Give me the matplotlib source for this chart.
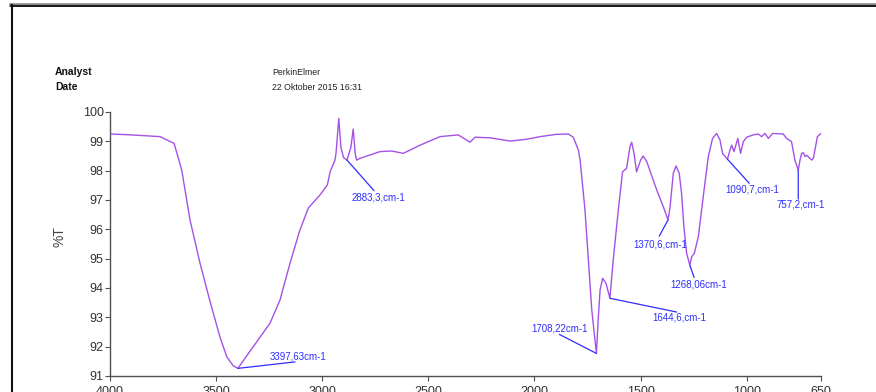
import matplotlib
matplotlib.use("Agg")
import matplotlib.pyplot as plt
from matplotlib.lines import Line2D
import numpy as np

plt.rcParams['font.family'] = ['Liberation Sans', 'DejaVu Sans']

# ---- spectrum data (wavenumber cm-1, %T) ----
wavenumber = [3995, 3900, 3764, 3733, 3698, 3662, 3623, 3576, 3529, 3482, 3450, 3420,
              3397.63, 3325, 3246, 3199, 3152, 3105, 3066, 3011, 2976, 2963, 2940, 2935,
              2922, 2912, 2900, 2883.3, 2865, 2854, 2845, 2838, 2822, 2728, 2673, 2618,
              2539, 2445, 2359, 2304, 2280, 2210, 2115, 2037, 1974, 1895, 1841, 1817,
              1793, 1785, 1762, 1746, 1730, 1708.22, 1700, 1691, 1679, 1663, 1644.6, 1629,
              1605, 1585, 1566, 1550, 1542, 1531, 1519, 1500, 1488, 1471, 1424, 1393,
              1370.6, 1361, 1346, 1333, 1318, 1307, 1296, 1283, 1268.06, 1259, 1247, 1228,
              1205, 1181, 1161, 1142, 1126, 1114, 1090.7, 1079, 1071, 1060, 1042, 1029,
              1016, 1000, 969, 945, 930, 914, 898, 878, 828, 812, 789, 773,
              757.2, 748, 741, 733, 725, 718, 694, 686, 667, 650]
transmittance = [99.25, 99.22, 99.16, 99.05, 98.93, 98.02, 96.32, 94.85, 93.55, 92.33, 91.66, 91.35,
                 91.26, 92.0, 92.8, 93.59, 94.84, 95.98, 96.72, 97.17, 97.51, 97.96, 98.36, 98.6,
                 99.78, 98.8, 98.45, 98.36, 98.8, 99.42, 98.6, 98.36, 98.42, 98.65, 98.67, 98.59,
                 98.87, 99.16, 99.22, 98.97, 99.14, 99.12, 99.01, 99.07, 99.16, 99.24, 99.25, 99.14,
                 98.7, 98.36, 96.66, 94.95, 93.25, 91.77, 92.9, 93.93, 94.33, 94.16, 93.65, 94.95,
                 96.66, 97.96, 98.08, 98.82, 98.97, 98.59, 97.96, 98.36, 98.50, 98.31, 97.34, 96.77,
                 96.32, 96.77, 97.91, 98.16, 97.91, 97.23, 96.09, 95.18, 94.78, 95.07, 95.18, 95.75,
                 97.11, 98.48, 99.10, 99.27, 99.05, 98.59, 98.39, 98.70, 98.87, 98.65, 99.10, 98.59,
                 98.99, 99.14, 99.22, 99.25, 99.16, 99.27, 99.10, 99.27, 99.25, 99.10, 98.99, 98.36,
                 98.02, 98.4, 98.59, 98.61, 98.48, 98.53, 98.36, 98.42, 99.16, 99.27]

# ---- peak annotations ----
peak_wn = [3397.63, 2883.3, 1708.22, 1644.6, 1370.6, 1268.06, 1090.7, 757.2]
peak_labels = ["3397,63cm-1", "2883,3,cm-1", "1708,22cm-1", "1644,6,cm-1",
               "1370,6,cm-1", "1268,06cm-1", "1090,7,cm-1", "757,2,cm-1"]
leader_end = [(3128, 91.48), (2756, 97.32), (1883, 92.42), (1330, 93.18),
              (1412, 95.77), (1248, 94.36), (988, 97.57), (757.2, 97.03)]
label_pos = [(3246, 91.66), (2861, 97.09), (2013, 92.61), (1443, 93.0),
             (1534, 95.49), (1361, 94.13), (1099, 97.37), (862, 96.85)]

x_ticks = [4000, 3500, 3000, 2500, 2000, 1500, 1000, 650]
y_ticks = [91, 92, 93, 94, 95, 96, 97, 98, 99, 100]

W, H = 876, 392
fig = plt.figure(figsize=(W / 100, H / 100), dpi=100)
fig.patch.set_facecolor('white')

ax = fig.add_axes([110 / W, 1 - 376 / H, (821 - 110) / W, (376 - 112) / H])
ax.plot(wavenumber, transmittance, color='#a452e6', lw=1.0, zorder=3)

blue = '#2e2eff'
for wn, lab, (ex, ey), (tx, ty) in zip(peak_wn, peak_labels, leader_end, label_pos):
    ty0 = np.interp(wn, wavenumber[::-1], transmittance[::-1])
    ax.annotate('', xy=(wn, ty0), xytext=(ex, ey),
                arrowprops=dict(arrowstyle='-', color=blue, lw=0.9,
                                shrinkA=0, shrinkB=0), zorder=4)
    ax.text(tx, ty, lab, color=blue, fontsize=7, ha='left', va='center', zorder=5)

ax.set_xlim(4000, 650)
ax.set_ylim(91, 100)
ax.set_xticks(x_ticks)
ax.set_xticklabels([str(t) for t in x_ticks])
ax.set_yticks(y_ticks)
ax.set_yticklabels([str(t) for t in y_ticks])
for s in ['top', 'right']:
    ax.spines[s].set_visible(False)
for s in ['left', 'bottom']:
    ax.spines[s].set_color('#505050')
    ax.spines[s].set_linewidth(1.0)
ax.tick_params(axis='both', direction='out', colors='#505050', labelcolor='#333333',
               labelsize=9, length=3.5, width=0.8, pad=1)
ax.tick_params(axis='x', pad=3.5)
ax.set_ylabel('%T', fontsize=10, color='#444444')
ax.yaxis.set_label_coords(-(110 - 66) / (821 - 110), 0.53)

# header texts
fig.text(55 / W, 1 - 75 / H, 'Analyst', fontsize=7.5, fontweight='bold', color='#111111')
fig.text(55 / W, 1 - 90 / H, 'Date', fontsize=7.5, fontweight='bold', color='#111111')
fig.text(272 / W, 1 - 75 / H, 'PerkinElmer', fontsize=6.3, color='#222222')
fig.text(272 / W, 1 - 90 / H, '22 Oktober 2015 16:31', fontsize=6.3, color='#222222')

# page frame
fig.add_artist(Line2D([11 / W, 1.0], [1 - 5 / H, 1 - 5 / H], color='#888888', lw=2.6,
                      transform=fig.transFigure))
fig.add_artist(Line2D([11 / W, 1.0], [1 - 5.5 / H, 1 - 5.5 / H], color='#111111', lw=1.3,
                      transform=fig.transFigure))
fig.add_artist(Line2D([11.5 / W, 11.5 / W], [0, 1 - 5 / H], color='#111111', lw=1.5,
                      transform=fig.transFigure))

fig.savefig('out.png', dpi=100, facecolor='white')
